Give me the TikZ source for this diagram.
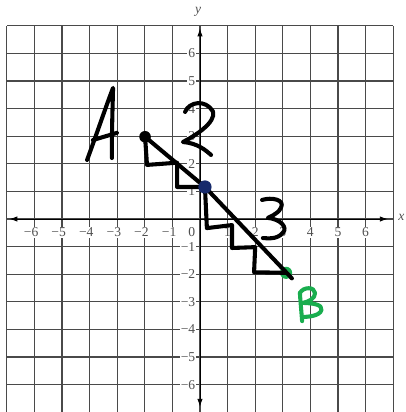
\documentclass[tikz,border=0pt]{standalone}
\usepackage{fontspec}
\setmainfont{Liberation Serif}
\usetikzlibrary{arrows.meta}
\definecolor{gridc}{HTML}{4A4A4A}
\definecolor{labc}{HTML}{505050}
\definecolor{penblue}{HTML}{172A6B}
\definecolor{pengreen}{HTML}{19AD4E}
\tikzset{
  gridline/.style={gridc, line width=1.1pt},
  axisline/.style={black, line width=0.8pt, -{Latex[length=8pt,width=5.5pt]}},
  ticklab/.style={fill=white, inner sep=1pt, text=labc, font=\fontsize{14}{14}\selectfont},
  pen/.style={black, line width=4.2pt, line cap=round, line join=round},
  gpen/.style={pengreen, line width=4.2pt, line cap=round, line join=round},
}
\begin{document}
\begin{tikzpicture}[x=1cm,y=1cm]
\useasboundingbox (-7.246,-6.993) rectangle (7.464,7.935);
% grid
\foreach \k in {-7,...,7} {
  \draw[gridline] (\k,-7) -- (\k,7);
  \draw[gridline] (-7,\k) -- (7,\k);
}
% x tick labels
\foreach \k in {-6,...,-1} {
  \node[ticklab] at (\k-0.12,-0.48) {−\the\numexpr-\k\relax};
}
\foreach \k in {1,...,6} {
  \node[ticklab] at (\k,-0.48) {\k};
}
\node[ticklab] at (-0.3,-0.48) {0};
% y tick labels
\foreach \k in {1,...,6} {
  \node[ticklab, anchor=east] at (-0.13,\k) {\k};
  \node[ticklab, anchor=east] at (-0.13,-\k) {−\k};
}
% axes
\coordinate (xl) at (-6.9,0);
\coordinate (xr) at (6.8,0);
\coordinate (yb) at (0,-6.8);
\coordinate (yt) at (0,6.9);
\draw[axisline] (0,0) -- (xr);
\draw[axisline] (0,0) -- (xl);
\draw[axisline] (0,0) -- (yt);
\draw[axisline] (0,0) -- (yb);
\node[font=\itshape\fontsize{14}{14}\selectfont, text=labc] (xlab) at (7.3,0.05) {x};
\node[font=\itshape\fontsize{14}{14}\selectfont, text=labc] (ylab) at (-0.07,7.5) {y};
% green dot (under the black line)
\coordinate (B) at (3.12,-1.95);
\fill[pengreen] (B) circle (0.22);
% staircase and diagonal
\coordinate (A) at (-1.99,2.98);
\coordinate (N) at (0.18,1.16);
\coordinate (E) at (3.33,-2.15);
\draw[pen] (A) -- (-1.92,1.96) -- (-0.83,2.04) -- (-0.83,1.16) -- (N)
  -- (0.25,-0.33) -- (1.16,-0.22) -- (1.16,-1.05) -- (2.0,-1.02)
  -- (1.96,-1.93) -- (B);
\draw[pen] (A) -- (N) -- (E);
% dots
\fill[black] (A) circle (0.21);
\fill[penblue] (N) circle (0.24);
% letter A
\draw[pen] (-4.09,2.14) .. controls (-3.7,3.2) and (-3.4,4.1) .. (-3.15,4.75)
  .. controls (-3.17,3.9) and (-3.2,3.0) .. (-3.19,2.21);
\draw[pen] (-3.88,2.86) -- (-3.01,3.12);
% digit 2
\draw[pen] (-0.54,3.88) .. controls (-0.4,4.25) and (0.2,4.35) .. (0.47,3.9)
  .. controls (0.6,3.5) and (-0.2,3.0) .. (-0.62,2.79)
  .. controls (-0.1,2.75) and (0.2,2.5) .. (0.4,2.32);
% digit 3
\draw[pen] (2.25,0.69) .. controls (2.6,0.8) and (3.1,0.7) .. (2.93,0.4)
  .. controls (2.8,0.15) and (2.5,0.08) .. (2.46,0.04)
  .. controls (2.9,0.0) and (3.2,-0.3) .. (3.0,-0.5)
  .. controls (2.8,-0.75) and (2.45,-0.7) .. (2.28,-0.69);
% letter B (green)
\draw[gpen] (3.62,-2.68) .. controls (3.64,-3.0) and (3.68,-3.4) .. (3.70,-3.70);
\draw[gpen] (3.62,-2.68) .. controls (3.75,-2.45) and (4.15,-2.45) .. (4.17,-2.68)
  .. controls (4.18,-2.9) and (3.9,-3.0) .. (3.73,-3.04)
  .. controls (4.1,-3.05) and (4.45,-3.1) .. (4.4,-3.3)
  .. controls (4.35,-3.5) and (3.95,-3.55) .. (3.70,-3.55);
\end{tikzpicture}
\end{document}
